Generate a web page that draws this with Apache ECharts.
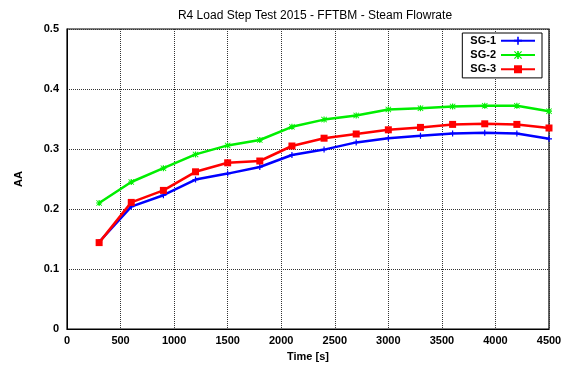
<!DOCTYPE html>
<html><head><meta charset="utf-8">
<script src="https://cdn.jsdelivr.net/npm/echarts@6/dist/echarts.min.js"></script>
<style>html,body{margin:0;padding:0;background:#fff}#c{width:568px;height:372px}</style>
</head><body><div id="c"></div>
<script>
const times = [300,600,900,1200,1500,1800,2100,2400,2700,3000,3300,3600,3900,4200,4500];
const sg1 = [0.145,0.204,0.223,0.249,0.259,0.270,0.290,0.299,0.311,0.318,0.322,0.326,0.327,0.326,0.317];
const sg2 = [0.210,0.245,0.268,0.291,0.306,0.315,0.337,0.349,0.356,0.366,0.368,0.371,0.372,0.372,0.363];
const sg3 = [0.144,0.211,0.231,0.262,0.277,0.280,0.305,0.318,0.325,0.332,0.336,0.341,0.342,0.341,0.335];
const seriesNames = ['SG-1','SG-2','SG-3'];
const colors = ['#0000ff','#00ee00','#ff0000'];
const font = 'Liberation Sans, Arial, sans-serif';
const plusPath = 'path://M4,0L6,0L6,4L10,4L10,6L6,6L6,10L4,10L4,6L0,6L0,4L4,4Z';
const starPath = 'path://M4,0L6,0L6,4L10,4L10,6L6,6L6,10L4,10L4,6L0,6L0,4L4,4Z M1,0L5,4L9,0L10,1L6,5L10,9L9,10L5,6L1,10L0,9L4,5L0,1Z';
const chart = echarts.init(document.getElementById('c'), null, {renderer:'canvas'});
function mk(arr){return times.map((t,i)=>[t,arr[i]]);}
chart.setOption({
  animation:false,
  title:{text:'R4 Load Step Test 2015 - FFTBM - Steam Flowrate',left:310,textAlign:'center',top:5,
    textStyle:{fontFamily:font,fontSize:12,fontWeight:'normal',color:'#000'}},
  grid:{left:67,right:19,top:29,bottom:43,show:true,borderColor:'#000',borderWidth:1.2},
  legend:{right:26,top:33,orient:'vertical',align:'right',itemGap:1,itemWidth:34,itemHeight:10,
    backgroundColor:'#fff',borderColor:'#000',borderWidth:1,padding:[1,6,2,8],
    textStyle:{fontFamily:font,fontSize:11,fontWeight:'bold',color:'#000',lineHeight:13.3},
    data:seriesNames},
  xAxis:{type:'value',min:0,max:4500,interval:500,
    name:'Time [s]',nameLocation:'middle',nameGap:22,
    nameTextStyle:{fontFamily:font,fontSize:11,fontWeight:'bold',color:'#000'},
    axisLine:{show:true,lineStyle:{color:'#000'}},axisTick:{show:false},
    axisLabel:{fontFamily:font,fontSize:11,fontWeight:'bold',color:'#000',margin:6,formatter:v=>String(v)},
    splitLine:{show:true,lineStyle:{color:'#333',type:[1,1],width:1}}},
  yAxis:{type:'value',min:0,max:0.5,interval:0.1,
    name:'AA',nameLocation:'middle',nameGap:43,nameRotate:90,
    nameTextStyle:{fontFamily:font,fontSize:11,fontWeight:'bold',color:'#000'},
    axisLine:{show:true,lineStyle:{color:'#000'}},axisTick:{show:false},
    axisLabel:{fontFamily:font,fontSize:11,fontWeight:'bold',color:'#000',margin:8,
      formatter:v=>String(Math.round(v*10)/10)},
    splitLine:{show:true,lineStyle:{color:'#333',type:[1,1],width:1}}},
  series:[
    {name:'SG-1',type:'line',data:mk(sg1),color:colors[0],lineStyle:{width:2.5},symbol:plusPath,symbolSize:6,itemStyle:{color:colors[0]},z:3},
    {name:'SG-2',type:'line',data:mk(sg2),color:colors[1],lineStyle:{width:2.5},symbol:starPath,symbolSize:6,itemStyle:{color:colors[1]},z:2},
    {name:'SG-3',type:'line',data:mk(sg3),color:colors[2],lineStyle:{width:2.5},symbol:'rect',symbolSize:7,itemStyle:{color:colors[2]},z:4}
  ]
});
</script></body></html>
